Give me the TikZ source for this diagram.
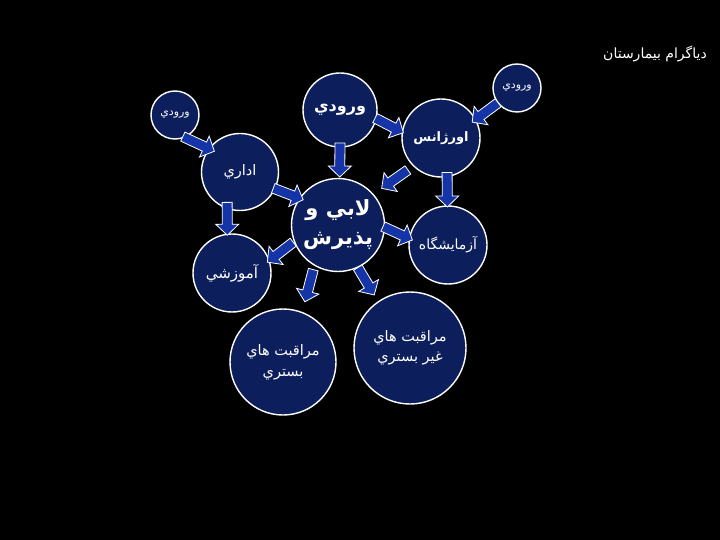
\documentclass[tikz,border=0pt]{standalone}
\usepackage{fontspec}
\newfontfamily\arabicfont[Script=Arabic]{DejaVu Sans}
\TeXXeTstate=1
\usetikzlibrary{calc}
\definecolor{wardnavy}{RGB}{12,30,92}
\definecolor{flowblue}{RGB}{20,52,168}
\tikzset{
  ward/.style={circle, fill=wardnavy, draw=white, line width=1.4pt, text=white, align=center, inner sep=0pt},
  flow/.style={fill=flowblue, draw=white, line width=0.8pt, to path={
    let \p1=(\tikztostart), \p2=(\tikztotarget),
        \n1={atan2(\y2-\y1,\x2-\x1)}, \n2={veclen(\x2-\x1,\y2-\y1)} in
    ($(\p1)+(\n1+90:5pt)$) -- ($(\p1)+(\n1:\n2-11pt)+(\n1+90:5pt)$)
    -- ($(\p1)+(\n1:\n2-11pt)+(\n1+90:11.5pt)$) -- (\p2)
    -- ($(\p1)+(\n1:\n2-11pt)+(\n1-90:11.5pt)$) -- ($(\p1)+(\n1:\n2-11pt)+(\n1-90:5pt)$)
    -- ($(\p1)+(\n1-90:5pt)$) -- cycle}}
}
\begin{document}
\begin{tikzpicture}[x=1pt,y=1pt]
\fill[black] (0,0) rectangle (720,-540);
\node[text=white, font={\arabicfont\fontsize{14}{16}\selectfont}] (title) at (655,-54) {\beginR دياگرام بيمارستان\endR};
% circles
\node[ward, minimum size=48pt, font={\arabicfont\fontsize{11}{13}\selectfont}] (lin) at (175,-115) {\beginR ورودي\endR};
\node[ward, minimum size=48pt, font={\arabicfont\fontsize{11}{13}\selectfont}] (rin) at (517,-88) {\beginR ورودي\endR};
\node[ward, minimum size=74pt, font={\arabicfont\bfseries\fontsize{16}{19}\selectfont}] (ent) at (340,-110) {\beginR ورودي\endR};
\node[ward, minimum size=78pt, font={\arabicfont\bfseries\fontsize{13}{16}\selectfont}] (emg) at (441,-138) {\beginR اورژانس\endR};
\node[ward, minimum size=77pt, font={\arabicfont\fontsize{14.5}{17}\selectfont}] (adm) at (240,-172) {\beginR اداري\endR};
\node[ward, minimum size=93pt, font={\arabicfont\bfseries\fontsize{21}{29}\selectfont}] (lob) at (338,-225) {\beginR لابي و\endR\\\beginR پذيرش\endR};
\node[ward, minimum size=78pt, font={\arabicfont\fontsize{14}{17}\selectfont}] (lab) at (448,-245) {\beginR آزمايشگاه\endR};
\node[ward, minimum size=78pt, font={\arabicfont\fontsize{15}{18}\selectfont}] (edu) at (232,-273) {\beginR آموزشي\endR};
\node[ward, minimum size=106pt, font={\arabicfont\fontsize{14.5}{21}\selectfont}] (inp) at (283,-362) {\beginR مراقبت هاي\endR\\\beginR بستري\endR};
\node[ward, minimum size=112pt, font={\arabicfont\fontsize{14.5}{20}\selectfont}] (outp) at (410,-348) {\beginR مراقبت هاي\endR\\\beginR غير بستري\endR};
% arrows
\draw[flow] ($(lin)+(-70:23pt)$) to ($(adm)+(141:33pt)$);
\draw[flow] ($(ent)+(-90:33pt)$) to ($(lob)+(88:48pt)$);
\draw[flow] ($(ent)+(-13:36pt)$) to ($(emg)+(172:38pt)$);
\draw[flow] ($(rin)+(218:24pt)$) to ($(emg)+(27:35pt)$);
\draw[flow] ($(emg)+(224:46pt)$) to ($(lob)+(40:57pt)$);
\draw[flow] ($(emg)+(-80:35pt)$) to ($(lab)+(91:38pt)$);
\draw[flow] ($(adm)+(-26:37pt)$) to ($(lob)+(144:43pt)$);
\draw[flow] ($(adm)+(-113:33pt)$) to ($(edu)+(97:38pt)$);
\draw[flow] ($(lob)+(201:48pt)$) to ($(edu)+(17:37pt)$);
\draw[flow] ($(lob)+(-2:45pt)$) to ($(lab)+(172:36pt)$);
\draw[flow] ($(lob)+(241:51pt)$) to ($(inp)+(70:64pt)$);
\draw[flow] ($(lob)+(-65:47pt)$) to ($(outp)+(124:64pt)$);
\end{tikzpicture}
\end{document}
